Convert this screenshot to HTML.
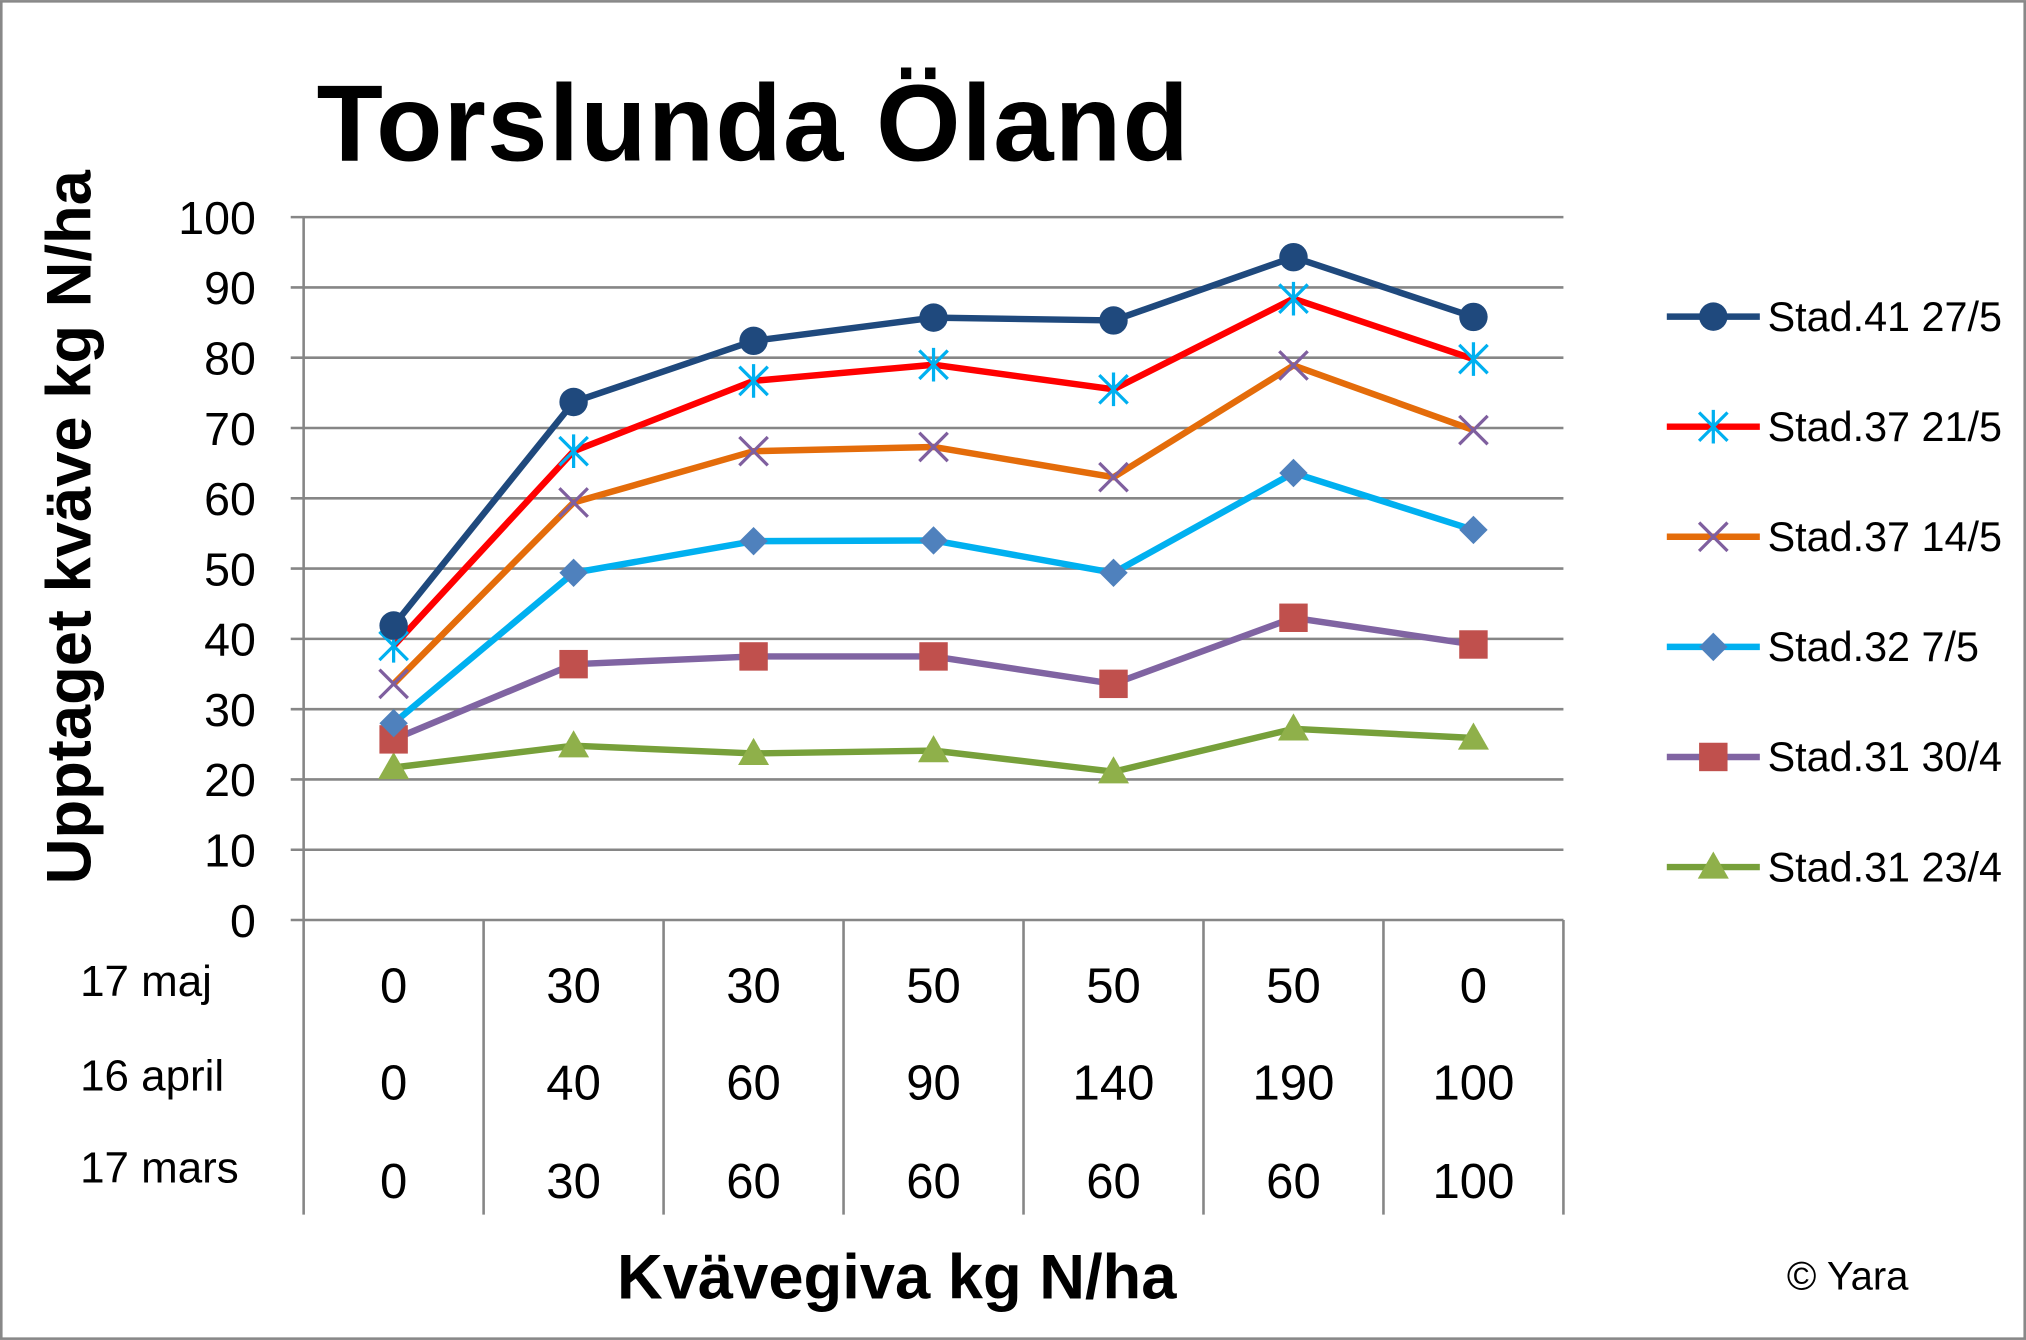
<!DOCTYPE html>
<html><head><meta charset="utf-8"><style>
html,body{margin:0;padding:0;background:#fff;}
svg{display:block;}
text{font-family:"Liberation Sans",sans-serif;}
</style></head><body>
<svg id="chart" width="2026" height="1340" viewBox="0 0 1568 1037" xmlns="http://www.w3.org/2000/svg">
<rect x="1" y="1" width="1566" height="1035" fill="#fff" stroke="#888" stroke-width="2"/>
<text x="245" y="124" font-size="84" font-weight="bold" letter-spacing="1">Torslunda Öland</text>
<text transform="translate(70,408) rotate(-90)" text-anchor="middle" font-size="49" font-weight="bold">Upptaget kväve kg N/ha</text>
<text x="694" y="1005" text-anchor="middle" font-size="49" font-weight="bold">Kvävegiva kg N/ha</text>
<text x="1430" y="998" text-anchor="middle" font-size="31">© Yara</text>
<g id="grid"></g><g id="table"></g><g id="series"></g><g id="legend"></g>
</svg>
<script>
const yTicks=[0,10,20,30,40,50,60,70,80,90,100];
const rowLabels=["17 maj","16 april","17 mars"];
const row1=[0,30,30,50,50,50,0];
const row2=[0,40,60,90,140,190,100];
const row3=[0,30,60,60,60,60,100];
const seriesNames=["Stad.41 27/5","Stad.37 21/5","Stad.37 14/5","Stad.32 7/5","Stad.31 30/4","Stad.31 23/4"];
const s41=[41.9,73.7,82.4,85.7,85.3,94.3,85.8];
const s37b=[39,66.7,76.7,79,75.5,88.4,79.8];
const s37a=[33.6,59.4,66.7,67.3,63,78.9,69.7];
const s32=[28,49.4,53.9,54,49.4,63.6,55.5];
const s31b=[25.7,36.4,37.5,37.5,33.6,43,39.2];
const s31a=[21.7,24.8,23.7,24.1,21.1,27.2,25.9];
const allSeries=[s41,s37b,s37a,s32,s31b,s31a];
const colors=["#1F497D","#FF0000","#E46C0A","#00B0F0","#8064A2","#77A03A"];
const markers=["circle","asterisk","x","diamond","square","triangle"];
const markerColors=["#1F497D","#00B0F0","#7F5F9F","#4F81BD","#C0504D","#8FB04A"];
const NS="http://www.w3.org/2000/svg";
const X0=235,X1=1210,Y0=712,Y1=168,N=7,CW=(X1-X0)/N;
const xs=i=>X0+CW*(i+0.5);
const ys=v=>Y0-(v/100)*(Y0-Y1);
function mk(tag,attrs,parent,txt){const e=document.createElementNS(NS,tag);for(const k in attrs)e.setAttribute(k,attrs[k]);if(txt!==undefined)e.textContent=txt;parent.appendChild(e);return e;}
const grid=document.getElementById('grid');
yTicks.forEach(t=>{
 const l=mk('line',{x1:X0-10,x2:X1,y1:ys(t),y2:ys(t),stroke:'#868686','stroke-width':2},grid);
 
 
 const tx=mk('text',{x:X0-37,y:ys(t)+13,'text-anchor':'end','font-size':36},grid,String(t));
 
 
});
const ax=mk('line',{x1:X0,x2:X0,y1:Y1,y2:Y0,stroke:'#868686','stroke-width':2},grid);


const table=document.getElementById('table');
for(let i=0;i<=N;i++){
 const l=mk('line',{x1:X0+CW*i,x2:X0+CW*i,y1:Y0,y2:940,stroke:'#868686','stroke-width':2},table);
 
 
}
const rows=[row1,row2,row3],rowY=[776,851,927],labY=[771,844,915];
rows.forEach((r,ri)=>{
 const lb=mk('text',{x:62,y:labY[ri],'font-size':34},table,rowLabels[ri]);
 
 
 r.forEach((v,i)=>{
  const t=mk('text',{x:xs(i),y:rowY[ri],'text-anchor':'middle','font-size':38},table,String(v));
  
  
 });
});
function drawMarker(g,type,x,y,c){
 let e;
 if(type==='circle')e=mk('circle',{cx:x,cy:y,r:11,fill:c},g);
 else if(type==='square')e=mk('rect',{x:x-11,y:y-11,width:22,height:22,fill:c},g);
 else if(type==='diamond')e=mk('polygon',{points:`${x},${y-11} ${x+11},${y} ${x},${y+11} ${x-11},${y}`,fill:c},g);
 else if(type==='triangle')e=mk('polygon',{points:`${x},${y-12} ${x+12},${y+9} ${x-12},${y+9}`,fill:c},g);
 else if(type==='x')e=mk('path',{d:`M${x-11},${y-11}L${x+11},${y+11}M${x-11},${y+11}L${x+11},${y-11}`,stroke:c,'stroke-width':2.5},g);
 else e=mk('path',{d:`M${x-11},${y-11}L${x+11},${y+11}M${x-11},${y+11}L${x+11},${y-11}M${x},${y-13}L${x},${y+13}`,stroke:c,'stroke-width':2.5},g);
 return e;
}
const sg=document.getElementById('series');
for(let s=allSeries.length-1;s>=0;s--){
 const d=allSeries[s];
 const g=mk('g',{},sg);
 
 
 const pl=mk('polyline',{points:d.map((v,i)=>xs(i)+','+ys(v)).join(' '),fill:'none',stroke:colors[s],'stroke-width':5,'stroke-linejoin':'round'},g);
 
 
 d.forEach((v,i)=>{
  const m=drawMarker(g,markers[s],xs(i),ys(v),markerColors[s]);
  
  
 });
}
const lg=document.getElementById('legend');
seriesNames.forEach((n,s)=>{
 const y=245+s*85.2;
 const g=mk('g',{},lg);
 
 
 mk('line',{x1:1290,x2:1362,y1:y,y2:y,stroke:colors[s],'stroke-width':5},g);
 drawMarker(g,markers[s],1326,y,markerColors[s]);
 mk('text',{x:1368,y:y+11,'font-size':32},g,n);
});
</script>
</body></html>
